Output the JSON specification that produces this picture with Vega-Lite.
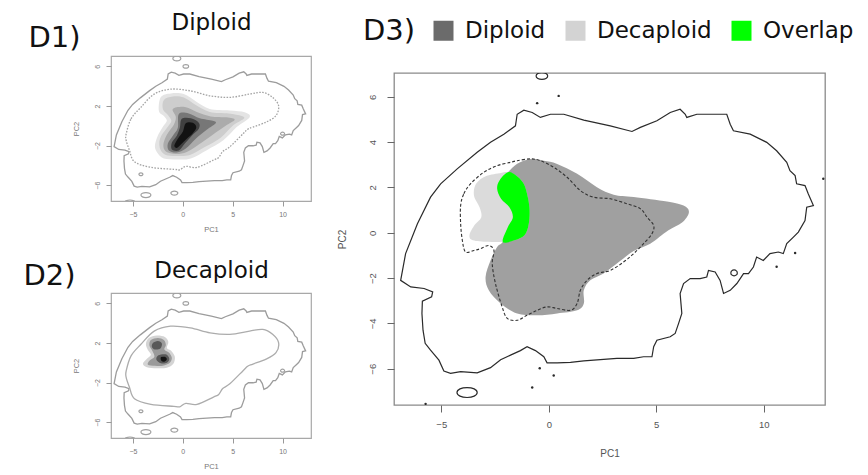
{
  "$schema": "https://vega.github.io/schema/vega-lite/v6.json",
  "padding": {"left": 22, "top": 10, "right": 5, "bottom": 0},
  "background": "white",
  "config": {
    "axis": {"grid": false, "domain": false}
  },
  "datasets": {
    "outer": [
      {"i":1,"x":-6.89,"y":-2.10},{"i":2,"x":-6.66,"y":-0.92},{"i":3,"x":-6.11,"y":0.40},{"i":4,"x":-5.50,"y":1.57},
      {"i":5,"x":-5.03,"y":2.16},{"i":6,"x":-4.26,"y":2.82},{"i":7,"x":-3.33,"y":3.55},{"i":8,"x":-2.71,"y":3.99},
      {"i":9,"x":-2.09,"y":4.35},{"i":10,"x":-1.55,"y":4.72},{"i":11,"x":-1.47,"y":5.23},{"i":12,"x":-1.16,"y":5.41},
      {"i":13,"x":-0.77,"y":5.31},{"i":14,"x":-0.39,"y":5.09},{"i":15,"x":0.08,"y":5.23},{"i":16,"x":0.70,"y":5.23},
      {"i":17,"x":1.63,"y":4.97},{"i":18,"x":2.86,"y":4.72},{"i":19,"x":3.87,"y":4.47},{"i":20,"x":4.26,"y":4.65},
      {"i":21,"x":5.03,"y":4.94},{"i":22,"x":5.65,"y":5.31},{"i":23,"x":6.11,"y":5.45},{"i":24,"x":6.35,"y":5.23},
      {"i":25,"x":6.42,"y":5.09},{"i":26,"x":6.89,"y":5.23},{"i":27,"x":7.82,"y":5.23},{"i":28,"x":8.28,"y":5.23},
      {"i":29,"x":8.44,"y":4.79},{"i":30,"x":8.59,"y":4.50},{"i":31,"x":9.37,"y":4.35},{"i":32,"x":10.14,"y":3.99},
      {"i":33,"x":10.60,"y":3.62},{"i":34,"x":11.07,"y":3.11},{"i":35,"x":11.22,"y":2.74},{"i":36,"x":11.46,"y":2.52},
      {"i":37,"x":11.53,"y":2.16},{"i":38,"x":11.92,"y":2.08},{"i":39,"x":12.07,"y":1.72},{"i":40,"x":12.31,"y":1.20},
      {"i":41,"x":12.00,"y":1.13},{"i":42,"x":11.92,"y":0.54},{"i":43,"x":11.61,"y":0.03},{"i":44,"x":11.38,"y":-0.19},
      {"i":45,"x":11.07,"y":-0.48},{"i":46,"x":10.91,"y":-0.92},{"i":47,"x":10.68,"y":-0.85},{"i":48,"x":10.29,"y":-0.92},
      {"i":49,"x":9.98,"y":-1.22},{"i":50,"x":9.67,"y":-1.07},{"i":51,"x":9.52,"y":-1.51},{"i":52,"x":9.29,"y":-1.80},
      {"i":53,"x":9.06,"y":-1.80},{"i":54,"x":8.75,"y":-2.24},{"i":55,"x":8.44,"y":-2.54},{"i":56,"x":8.13,"y":-2.68},
      {"i":57,"x":7.97,"y":-2.10},{"i":58,"x":7.74,"y":-1.73},{"i":59,"x":7.43,"y":-1.66},{"i":60,"x":7.35,"y":-1.95},
      {"i":61,"x":7.04,"y":-2.02},{"i":62,"x":6.58,"y":-2.02},{"i":63,"x":6.27,"y":-2.24},{"i":64,"x":6.11,"y":-2.68},
      {"i":65,"x":6.19,"y":-3.56},{"i":66,"x":6.04,"y":-4.00},{"i":67,"x":5.88,"y":-4.44},{"i":68,"x":5.65,"y":-4.59},
      {"i":69,"x":5.03,"y":-4.74},{"i":70,"x":4.88,"y":-5.03},{"i":71,"x":4.80,"y":-5.47},{"i":72,"x":4.41,"y":-5.47},
      {"i":73,"x":3.95,"y":-5.54},{"i":74,"x":3.17,"y":-5.54},{"i":75,"x":2.40,"y":-5.60},{"i":76,"x":1.63,"y":-5.65},
      {"i":77,"x":1.01,"y":-5.72},{"i":78,"x":0.39,"y":-5.74},{"i":79,"x":-0.08,"y":-5.74},{"i":80,"x":-0.23,"y":-5.47},
      {"i":81,"x":-0.62,"y":-5.20},{"i":82,"x":-1.01,"y":-5.03},{"i":83,"x":-1.32,"y":-5.20},{"i":84,"x":-1.78,"y":-5.40},
      {"i":85,"x":-2.24,"y":-5.60},{"i":86,"x":-2.71,"y":-5.95},{"i":87,"x":-3.33,"y":-6.18},{"i":88,"x":-4.10,"y":-6.13},
      {"i":89,"x":-4.57,"y":-6.20},{"i":90,"x":-4.88,"y":-6.10},{"i":91,"x":-5.11,"y":-5.62},{"i":92,"x":-5.50,"y":-5.18},
      {"i":93,"x":-5.75,"y":-4.88},{"i":94,"x":-5.85,"y":-4.30},{"i":95,"x":-5.90,"y":-3.56},{"i":96,"x":-5.88,"y":-3.02},
      {"i":97,"x":-5.45,"y":-2.83},{"i":98,"x":-5.40,"y":-2.61},{"i":99,"x":-5.80,"y":-2.46},{"i":100,"x":-6.42,"y":-2.39}
    ],
    "inner": [
      {"i":1,"x":-5.68,"y":-0.83},{"i":2,"x":-5.19,"y":0.70},{"i":3,"x":-4.20,"y":1.87},{"i":4,"x":-2.87,"y":3.20},
      {"i":5,"x":-1.23,"y":3.70},{"i":6,"x":0.75,"y":3.53},{"i":7,"x":2.73,"y":3.03},{"i":8,"x":4.71,"y":2.87},
      {"i":9,"x":6.69,"y":3.20},{"i":10,"x":8.02,"y":3.37},{"i":11,"x":9.00,"y":2.87},{"i":12,"x":9.60,"y":2.03},
      {"i":13,"x":9.34,"y":1.03},{"i":14,"x":8.35,"y":0.37},{"i":15,"x":7.03,"y":-0.13},{"i":16,"x":6.50,"y":-0.35},
      {"i":17,"x":6.04,"y":-0.80},{"i":18,"x":4.71,"y":-2.13},{"i":19,"x":4.00,"y":-2.60},{"i":20,"x":3.60,"y":-3.20},
      {"i":21,"x":3.07,"y":-3.47},{"i":22,"x":1.42,"y":-4.20},{"i":23,"x":0.30,"y":-4.10},{"i":24,"x":-0.30,"y":-4.45},
      {"i":25,"x":-0.89,"y":-4.40},{"i":26,"x":-3.20,"y":-4.20},{"i":27,"x":-4.85,"y":-3.63},{"i":28,"x":-5.35,"y":-2.47},
      {"i":29,"x":-5.68,"y":-1.47}
    ],
    "islandsGrey": [
      {"id":"g1","i":1,"x":-3.2,"y":-7.0},{"id":"g1","i":2,"x":-3.35,"y":-6.82},{"id":"g1","i":3,"x":-3.7,"y":-6.75},{"id":"g1","i":4,"x":-4.05,"y":-6.82},
      {"id":"g1","i":5,"x":-4.2,"y":-7.0},{"id":"g1","i":6,"x":-4.05,"y":-7.18},{"id":"g1","i":7,"x":-3.7,"y":-7.25},{"id":"g1","i":8,"x":-3.35,"y":-7.18},
      {"id":"g2","i":1,"x":-0.2,"y":6.8},{"id":"g2","i":2,"x":-0.32,"y":6.98},{"id":"g2","i":3,"x":-0.6,"y":7.05},{"id":"g2","i":4,"x":-0.88,"y":6.98},
      {"id":"g2","i":5,"x":-1.0,"y":6.8},{"id":"g2","i":6,"x":-0.88,"y":6.62},{"id":"g2","i":7,"x":-0.6,"y":6.55},{"id":"g2","i":8,"x":-0.32,"y":6.62},
      {"id":"g3","i":1,"x":0.58,"y":6.0},{"id":"g3","i":2,"x":0.5,"y":6.13},{"id":"g3","i":3,"x":0.3,"y":6.18},{"id":"g3","i":4,"x":0.1,"y":6.13},
      {"id":"g3","i":5,"x":0.02,"y":6.0},{"id":"g3","i":6,"x":0.1,"y":5.87},{"id":"g3","i":7,"x":0.3,"y":5.82},{"id":"g3","i":8,"x":0.5,"y":5.87},
      {"id":"g4","i":1,"x":-4.0,"y":-4.9},{"id":"g4","i":2,"x":-4.06,"y":-4.8},{"id":"g4","i":3,"x":-4.2,"y":-4.76},{"id":"g4","i":4,"x":-4.34,"y":-4.8},
      {"id":"g4","i":5,"x":-4.4,"y":-4.9},{"id":"g4","i":6,"x":-4.34,"y":-5.0},{"id":"g4","i":7,"x":-4.2,"y":-5.04},{"id":"g4","i":8,"x":-4.06,"y":-5.0},
      {"id":"g5","i":1,"x":-0.5,"y":-6.8},{"id":"g5","i":2,"x":-0.6,"y":-6.66},{"id":"g5","i":3,"x":-0.85,"y":-6.6},{"id":"g5","i":4,"x":-1.1,"y":-6.66},
      {"id":"g5","i":5,"x":-1.2,"y":-6.8},{"id":"g5","i":6,"x":-1.1,"y":-6.94},{"id":"g5","i":7,"x":-0.85,"y":-7.0},{"id":"g5","i":8,"x":-0.6,"y":-6.94},
      {"id":"g6","i":1,"x":-4.75,"y":-7.8},{"id":"g6","i":2,"x":-4.91,"y":-7.59},{"id":"g6","i":3,"x":-5.3,"y":-7.5},{"id":"g6","i":4,"x":-5.69,"y":-7.59},
      {"id":"g6","i":5,"x":-5.85,"y":-7.8},{"id":"g6","i":6,"x":-5.69,"y":-8.01},{"id":"g6","i":7,"x":-5.3,"y":-8.1},{"id":"g6","i":8,"x":-4.91,"y":-8.01},
      {"id":"g7","i":1,"x":10.2,"y":-0.8},{"id":"g7","i":2,"x":10.14,"y":-0.69},{"id":"g7","i":3,"x":10.0,"y":-0.65},{"id":"g7","i":4,"x":9.86,"y":-0.69},
      {"id":"g7","i":5,"x":9.8,"y":-0.8},{"id":"g7","i":6,"x":9.86,"y":-0.91},{"id":"g7","i":7,"x":10.0,"y":-0.95},{"id":"g7","i":8,"x":10.14,"y":-0.91}
    ],
    "islandsBlack": [
      {"id":"b1","i":1,"x":-3.33,"y":-7.05},{"id":"b1","i":2,"x":-3.47,"y":-6.89},{"id":"b1","i":3,"x":-3.8,"y":-6.83},{"id":"b1","i":4,"x":-4.13,"y":-6.89},
      {"id":"b1","i":5,"x":-4.27,"y":-7.05},{"id":"b1","i":6,"x":-4.13,"y":-7.21},{"id":"b1","i":7,"x":-3.8,"y":-7.27},{"id":"b1","i":8,"x":-3.47,"y":-7.21},
      {"id":"b2","i":1,"x":-0.05,"y":6.92},{"id":"b2","i":2,"x":-0.13,"y":7.03},{"id":"b2","i":3,"x":-0.32,"y":7.07},{"id":"b2","i":4,"x":-0.51,"y":7.03},
      {"id":"b2","i":5,"x":-0.59,"y":6.92},{"id":"b2","i":6,"x":-0.51,"y":6.81},{"id":"b2","i":7,"x":-0.32,"y":6.77},{"id":"b2","i":8,"x":-0.13,"y":6.81},
      {"id":"b3","i":1,"x":8.77,"y":-1.77},{"id":"b3","i":2,"x":8.73,"y":-1.68},{"id":"b3","i":3,"x":8.62,"y":-1.64},{"id":"b3","i":4,"x":8.51,"y":-1.68},
      {"id":"b3","i":5,"x":8.47,"y":-1.77},{"id":"b3","i":6,"x":8.51,"y":-1.86},{"id":"b3","i":7,"x":8.62,"y":-1.9},{"id":"b3","i":8,"x":8.73,"y":-1.86}
    ],
    "specks": [
      {"x":-0.54,"y":5.72},{"x":0.46,"y":6.04},{"x":-0.42,"y":-5.98},{"x":0.23,"y":-6.30},{"x":-0.77,"y":-6.83},
      {"x":11.46,"y":-0.89},{"x":10.6,"y":-1.5},{"x":12.77,"y":2.38},{"x":-5.73,"y":-7.55}
    ],
    "dashed": [
      {"i":1,"x":-4.10,"y":1.20},{"i":2,"x":-3.95,"y":1.72},{"i":3,"x":-3.64,"y":2.16},{"i":4,"x":-3.02,"y":2.67},
      {"i":5,"x":-2.40,"y":2.96},{"i":6,"x":-1.78,"y":3.11},{"i":7,"x":-1.47,"y":3.18},{"i":8,"x":-0.85,"y":3.26},
      {"i":9,"x":-0.39,"y":3.18},{"i":10,"x":0.23,"y":2.89},{"i":11,"x":0.85,"y":2.45},{"i":12,"x":1.47,"y":1.86},
      {"i":13,"x":2.09,"y":1.57},{"i":14,"x":2.86,"y":1.50},{"i":15,"x":3.64,"y":1.28},{"i":16,"x":4.26,"y":1.06},
      {"i":17,"x":4.57,"y":0.69},{"i":18,"x":4.88,"y":0.32},{"i":19,"x":4.80,"y":-0.04},{"i":20,"x":4.41,"y":-0.48},
      {"i":21,"x":3.95,"y":-0.92},{"i":22,"x":3.48,"y":-1.29},{"i":23,"x":2.86,"y":-1.66},{"i":24,"x":2.24,"y":-1.80},
      {"i":25,"x":1.78,"y":-2.10},{"i":26,"x":1.47,"y":-2.54},{"i":27,"x":1.32,"y":-3.12},{"i":28,"x":1.01,"y":-3.42},
      {"i":29,"x":0.39,"y":-3.34},{"i":30,"x":-0.08,"y":-3.27},{"i":31,"x":-0.54,"y":-3.42},{"i":32,"x":-1.01,"y":-3.64},
      {"i":33,"x":-1.47,"y":-3.86},{"i":34,"x":-1.93,"y":-3.78},{"i":35,"x":-2.17,"y":-3.27},{"i":36,"x":-2.48,"y":-2.24},
      {"i":37,"x":-2.63,"y":-1.36},{"i":38,"x":-2.55,"y":-0.78},{"i":39,"x":-2.79,"y":-0.56},{"i":40,"x":-3.17,"y":-0.70},
      {"i":41,"x":-3.48,"y":-0.78},{"i":42,"x":-3.87,"y":-0.85},{"i":43,"x":-4.02,"y":-0.34},{"i":44,"x":-4.10,"y":0.40}
    ],
    "regions": [
      {"group":"Diploid","i":1,"x":-1.90,"y":2.67},{"group":"Diploid","i":2,"x":-1.47,"y":3.05},{"group":"Diploid","i":3,"x":-0.85,"y":3.26},
      {"group":"Diploid","i":4,"x":-0.23,"y":3.18},{"group":"Diploid","i":5,"x":0.39,"y":3.04},{"group":"Diploid","i":6,"x":1.32,"y":2.60},
      {"group":"Diploid","i":7,"x":2.24,"y":2.01},{"group":"Diploid","i":8,"x":3.02,"y":1.68},{"group":"Diploid","i":9,"x":3.95,"y":1.58},
      {"group":"Diploid","i":10,"x":5.50,"y":1.38},{"group":"Diploid","i":11,"x":6.27,"y":1.20},{"group":"Diploid","i":12,"x":6.52,"y":0.91},
      {"group":"Diploid","i":13,"x":6.20,"y":0.45},{"group":"Diploid","i":14,"x":5.55,"y":0.10},{"group":"Diploid","i":15,"x":4.72,"y":-0.48},
      {"group":"Diploid","i":16,"x":3.95,"y":-0.80},{"group":"Diploid","i":17,"x":3.17,"y":-1.36},{"group":"Diploid","i":18,"x":2.55,"y":-1.80},
      {"group":"Diploid","i":19,"x":1.93,"y":-2.10},{"group":"Diploid","i":20,"x":1.63,"y":-2.54},{"group":"Diploid","i":21,"x":1.63,"y":-3.12},
      {"group":"Diploid","i":22,"x":1.32,"y":-3.42},{"group":"Diploid","i":23,"x":0.39,"y":-3.56},{"group":"Diploid","i":24,"x":-0.54,"y":-3.64},
      {"group":"Diploid","i":25,"x":-1.47,"y":-3.56},{"group":"Diploid","i":26,"x":-2.24,"y":-3.12},{"group":"Diploid","i":27,"x":-2.79,"y":-2.54},
      {"group":"Diploid","i":28,"x":-2.94,"y":-1.95},{"group":"Diploid","i":29,"x":-2.71,"y":-1.22},{"group":"Diploid","i":30,"x":-2.40,"y":-0.63},
      {"group":"Diploid","i":31,"x":-2.14,"y":-0.40},{"group":"Diploid","i":32,"x":-1.90,"y":0.25},{"group":"Diploid","i":33,"x":-1.67,"y":0.69},
      {"group":"Diploid","i":34,"x":-1.83,"y":1.13},{"group":"Diploid","i":35,"x":-2.22,"y":1.50},{"group":"Diploid","i":36,"x":-2.40,"y":1.94},
      {"group":"Diploid","i":37,"x":-2.29,"y":2.31},
      {"group":"Decaploid","i":1,"x":-3.48,"y":1.65},{"group":"Decaploid","i":2,"x":-3.38,"y":2.16},{"group":"Decaploid","i":3,"x":-2.91,"y":2.50},
      {"group":"Decaploid","i":4,"x":-2.22,"y":2.64},{"group":"Decaploid","i":5,"x":-1.90,"y":2.67},{"group":"Decaploid","i":6,"x":-1.52,"y":2.53},
      {"group":"Decaploid","i":7,"x":-1.21,"y":2.23},{"group":"Decaploid","i":8,"x":-1.05,"y":1.87},{"group":"Decaploid","i":9,"x":-0.90,"y":1.13},
      {"group":"Decaploid","i":10,"x":-0.93,"y":0.40},{"group":"Decaploid","i":11,"x":-1.13,"y":-0.11},{"group":"Decaploid","i":12,"x":-1.60,"y":-0.33},
      {"group":"Decaploid","i":13,"x":-2.14,"y":-0.40},{"group":"Decaploid","i":14,"x":-2.83,"y":-0.40},{"group":"Decaploid","i":15,"x":-3.53,"y":-0.33},
      {"group":"Decaploid","i":16,"x":-3.69,"y":-0.11},{"group":"Decaploid","i":17,"x":-3.46,"y":0.33},{"group":"Decaploid","i":18,"x":-3.14,"y":0.69},
      {"group":"Decaploid","i":19,"x":-3.22,"y":1.13},
      {"group":"Overlap","i":1,"x":-1.90,"y":2.67},{"group":"Overlap","i":2,"x":-1.52,"y":2.53},{"group":"Overlap","i":3,"x":-1.21,"y":2.23},
      {"group":"Overlap","i":4,"x":-1.05,"y":1.87},{"group":"Overlap","i":5,"x":-0.90,"y":1.13},{"group":"Overlap","i":6,"x":-0.93,"y":0.40},
      {"group":"Overlap","i":7,"x":-1.13,"y":-0.11},{"group":"Overlap","i":8,"x":-1.60,"y":-0.33},{"group":"Overlap","i":9,"x":-2.14,"y":-0.40},
      {"group":"Overlap","i":10,"x":-1.90,"y":0.25},{"group":"Overlap","i":11,"x":-1.67,"y":0.69},{"group":"Overlap","i":12,"x":-1.83,"y":1.13},
      {"group":"Overlap","i":13,"x":-2.22,"y":1.50},{"group":"Overlap","i":14,"x":-2.40,"y":1.94},{"group":"Overlap","i":15,"x":-2.29,"y":2.31}
    ],
    "densDiploid": [
      {"id":"d1","level":1,"i":1,"x":-2.2,"y":2.9},{"id":"d1","level":1,"i":2,"x":-1.2,"y":3.27},{"id":"d1","level":1,"i":3,"x":0.1,"y":3.2},
      {"id":"d1","level":1,"i":4,"x":1.4,"y":2.4},{"id":"d1","level":1,"i":5,"x":2.7,"y":1.7},{"id":"d1","level":1,"i":6,"x":4.7,"y":1.55},
      {"id":"d1","level":1,"i":7,"x":6.2,"y":1.37},{"id":"d1","level":1,"i":8,"x":6.7,"y":0.87},{"id":"d1","level":1,"i":9,"x":5.4,"y":-0.13},
      {"id":"d1","level":1,"i":10,"x":4.06,"y":-1.47},{"id":"d1","level":1,"i":11,"x":2.4,"y":-2.47},{"id":"d1","level":1,"i":12,"x":0.8,"y":-3.3},
      {"id":"d1","level":1,"i":13,"x":-0.6,"y":-3.4},{"id":"d1","level":1,"i":14,"x":-1.9,"y":-3.3},{"id":"d1","level":1,"i":15,"x":-2.5,"y":-2.8},
      {"id":"d1","level":1,"i":16,"x":-2.8,"y":-2.1},{"id":"d1","level":1,"i":17,"x":-2.55,"y":-1.1},{"id":"d1","level":1,"i":18,"x":-2.0,"y":-0.1},
      {"id":"d1","level":1,"i":19,"x":-1.6,"y":0.5},{"id":"d1","level":1,"i":20,"x":-1.9,"y":1.0},{"id":"d1","level":1,"i":21,"x":-2.4,"y":1.5},
      {"id":"d2","level":2,"i":1,"x":-1.9,"y":2.6},{"id":"d2","level":2,"i":2,"x":-1.0,"y":2.95},{"id":"d2","level":2,"i":3,"x":0.1,"y":2.85},
      {"id":"d2","level":2,"i":4,"x":1.3,"y":2.1},{"id":"d2","level":2,"i":5,"x":2.7,"y":1.4},{"id":"d2","level":2,"i":6,"x":4.6,"y":1.25},
      {"id":"d2","level":2,"i":7,"x":5.9,"y":1.0},{"id":"d2","level":2,"i":8,"x":6.1,"y":0.7},{"id":"d2","level":2,"i":9,"x":5.0,"y":0.0},
      {"id":"d2","level":2,"i":10,"x":3.8,"y":-1.2},{"id":"d2","level":2,"i":11,"x":2.2,"y":-2.15},{"id":"d2","level":2,"i":12,"x":0.7,"y":-2.95},
      {"id":"d2","level":2,"i":13,"x":-0.6,"y":-3.05},{"id":"d2","level":2,"i":14,"x":-1.7,"y":-2.95},{"id":"d2","level":2,"i":15,"x":-2.25,"y":-2.4},
      {"id":"d2","level":2,"i":16,"x":-2.35,"y":-1.6},{"id":"d2","level":2,"i":17,"x":-2.1,"y":-0.9},{"id":"d2","level":2,"i":18,"x":-1.5,"y":-0.1},
      {"id":"d2","level":2,"i":19,"x":-1.15,"y":0.5},{"id":"d2","level":2,"i":20,"x":-1.5,"y":1.1},{"id":"d2","level":2,"i":21,"x":-2.0,"y":1.7},
      {"id":"d3","level":3,"i":1,"x":-1.0,"y":1.7},{"id":"d3","level":3,"i":2,"x":0.2,"y":1.9},{"id":"d3","level":3,"i":3,"x":1.4,"y":1.4},
      {"id":"d3","level":3,"i":4,"x":2.8,"y":0.95},{"id":"d3","level":3,"i":5,"x":4.4,"y":0.85},{"id":"d3","level":3,"i":6,"x":5.2,"y":0.6},
      {"id":"d3","level":3,"i":7,"x":4.3,"y":0.0},{"id":"d3","level":3,"i":8,"x":3.0,"y":-0.9},{"id":"d3","level":3,"i":9,"x":1.6,"y":-1.9},
      {"id":"d3","level":3,"i":10,"x":0.4,"y":-2.65},{"id":"d3","level":3,"i":11,"x":-0.7,"y":-2.85},{"id":"d3","level":3,"i":12,"x":-1.7,"y":-2.6},
      {"id":"d3","level":3,"i":13,"x":-1.95,"y":-1.9},{"id":"d3","level":3,"i":14,"x":-1.6,"y":-0.9},{"id":"d3","level":3,"i":15,"x":-0.9,"y":0.1},
      {"id":"d3","level":3,"i":16,"x":-0.7,"y":0.9},
      {"id":"d4","level":4,"i":1,"x":-0.4,"y":1.2},{"id":"d4","level":4,"i":2,"x":0.6,"y":1.25},{"id":"d4","level":4,"i":3,"x":1.7,"y":0.75},
      {"id":"d4","level":4,"i":4,"x":3.0,"y":0.5},{"id":"d4","level":4,"i":5,"x":3.3,"y":0.25},{"id":"d4","level":4,"i":6,"x":2.4,"y":-0.4},
      {"id":"d4","level":4,"i":7,"x":1.3,"y":-1.3},{"id":"d4","level":4,"i":8,"x":0.3,"y":-2.3},{"id":"d4","level":4,"i":9,"x":-0.6,"y":-2.7},
      {"id":"d4","level":4,"i":10,"x":-1.4,"y":-2.5},{"id":"d4","level":4,"i":11,"x":-1.5,"y":-1.8},{"id":"d4","level":4,"i":12,"x":-1.0,"y":-1.0},
      {"id":"d4","level":4,"i":13,"x":-0.5,"y":-0.2},
      {"id":"d5","level":5,"i":1,"x":-0.1,"y":0.7},{"id":"d5","level":5,"i":2,"x":0.8,"y":0.75},{"id":"d5","level":5,"i":3,"x":1.6,"y":0.3},
      {"id":"d5","level":5,"i":4,"x":1.6,"y":-0.3},{"id":"d5","level":5,"i":5,"x":0.9,"y":-1.0},{"id":"d5","level":5,"i":6,"x":0.2,"y":-1.8},
      {"id":"d5","level":5,"i":7,"x":-0.4,"y":-2.5},{"id":"d5","level":5,"i":8,"x":-1.1,"y":-2.4},{"id":"d5","level":5,"i":9,"x":-1.1,"y":-1.7},
      {"id":"d5","level":5,"i":10,"x":-0.6,"y":-1.0},{"id":"d5","level":5,"i":11,"x":-0.3,"y":-0.2},
      {"id":"d6","level":6,"i":1,"x":0.3,"y":0.25},{"id":"d6","level":6,"i":2,"x":1.0,"y":0.3},{"id":"d6","level":6,"i":3,"x":1.35,"y":-0.15},
      {"id":"d6","level":6,"i":4,"x":1.0,"y":-0.75},{"id":"d6","level":6,"i":5,"x":0.4,"y":-1.3},{"id":"d6","level":6,"i":6,"x":-0.2,"y":-1.9},
      {"id":"d6","level":6,"i":7,"x":-0.6,"y":-2.25},{"id":"d6","level":6,"i":8,"x":-0.85,"y":-2.0},{"id":"d6","level":6,"i":9,"x":-0.5,"y":-1.3},
      {"id":"d6","level":6,"i":10,"x":0.0,"y":-0.6}
    ],
    "densDecaploid": [
      {"id":"e1","level":1,"i":1,"x":-3.4,"y":2.5},{"id":"e1","level":1,"i":2,"x":-2.6,"y":2.75},{"id":"e1","level":1,"i":3,"x":-1.8,"y":2.6},
      {"id":"e1","level":1,"i":4,"x":-1.45,"y":2.1},{"id":"e1","level":1,"i":5,"x":-1.6,"y":1.5},{"id":"e1","level":1,"i":6,"x":-1.15,"y":1.2},
      {"id":"e1","level":1,"i":7,"x":-0.8,"y":0.6},{"id":"e1","level":1,"i":8,"x":-0.95,"y":-0.1},{"id":"e1","level":1,"i":9,"x":-1.6,"y":-0.5},
      {"id":"e1","level":1,"i":10,"x":-2.6,"y":-0.55},{"id":"e1","level":1,"i":11,"x":-3.6,"y":-0.45},{"id":"e1","level":1,"i":12,"x":-4.0,"y":-0.1},
      {"id":"e1","level":1,"i":13,"x":-3.6,"y":0.4},{"id":"e1","level":1,"i":14,"x":-3.2,"y":0.8},{"id":"e1","level":1,"i":15,"x":-3.5,"y":1.3},
      {"id":"e1","level":1,"i":16,"x":-3.7,"y":1.9},
      {"id":"e2","level":2,"i":1,"x":-3.2,"y":2.3},{"id":"e2","level":2,"i":2,"x":-2.5,"y":2.5},{"id":"e2","level":2,"i":3,"x":-1.9,"y":2.3},
      {"id":"e2","level":2,"i":4,"x":-1.7,"y":1.8},{"id":"e2","level":2,"i":5,"x":-1.85,"y":1.35},{"id":"e2","level":2,"i":6,"x":-1.35,"y":1.0},
      {"id":"e2","level":2,"i":7,"x":-1.1,"y":0.5},{"id":"e2","level":2,"i":8,"x":-1.3,"y":0.0},{"id":"e2","level":2,"i":9,"x":-2.0,"y":-0.3},
      {"id":"e2","level":2,"i":10,"x":-2.8,"y":-0.3},{"id":"e2","level":2,"i":11,"x":-3.5,"y":-0.2},{"id":"e2","level":2,"i":12,"x":-3.35,"y":0.2},
      {"id":"e2","level":2,"i":13,"x":-2.85,"y":0.6},{"id":"e2","level":2,"i":14,"x":-3.05,"y":1.2},{"id":"e2","level":2,"i":15,"x":-3.35,"y":1.75},
      {"id":"e3","level":3,"i":1,"x":-3.0,"y":2.0},{"id":"e3","level":3,"i":2,"x":-2.5,"y":2.2},{"id":"e3","level":3,"i":3,"x":-2.1,"y":1.95},
      {"id":"e3","level":3,"i":4,"x":-2.25,"y":1.45},{"id":"e3","level":3,"i":5,"x":-2.8,"y":1.35},{"id":"e3","level":3,"i":6,"x":-3.1,"y":1.6},
      {"id":"e4","level":3,"i":1,"x":-2.45,"y":0.75},{"id":"e4","level":3,"i":2,"x":-1.7,"y":0.85},{"id":"e4","level":3,"i":3,"x":-1.35,"y":0.4},
      {"id":"e4","level":3,"i":4,"x":-1.6,"y":0.0},{"id":"e4","level":3,"i":5,"x":-2.2,"y":-0.05},{"id":"e4","level":3,"i":6,"x":-2.65,"y":0.3},
      {"id":"e5","level":4,"i":1,"x":-2.2,"y":0.55},{"id":"e5","level":4,"i":2,"x":-1.8,"y":0.6},{"id":"e5","level":4,"i":3,"x":-1.6,"y":0.35},
      {"id":"e5","level":4,"i":4,"x":-1.85,"y":0.1},{"id":"e5","level":4,"i":5,"x":-2.15,"y":0.2}
    ]
  },
  "spacing": 283,
  "bounds": "flush",
  "resolve": {"scale": {"fill": "independent", "fillOpacity": "independent"}, "legend": {"fill": "independent"}},
  "hconcat": [
    {
      "spacing": 92,
      "bounds": "flush",
      "resolve": {"scale": {"fill": "independent"}, "legend": {"fill": "independent"}},
      "vconcat": [
        {
          "width": 200,
          "height": 145,
          "view": {"stroke": "#a8a8a8", "strokeWidth": 1.2},
          "resolve": {"axis": {"x": "independent"}},
          "layer": [
            {
              "data": {"name": "densDiploid"},
              "mark": {"type": "line", "interpolate": "cardinal-closed", "strokeWidth": 0, "clip": true},
              "encoding": {
                "x": {"field": "x", "type": "quantitative", "scale": {"domain": [-7.2, 12.85], "nice": false, "zero": false},
                  "axis": {"values": [-5, 0, 5, 10], "title": "PC1", "tickSize": 5, "tickColor": "#999", "labelFontSize": 7, "labelFont": "Liberation Sans", "labelColor": "#777", "labelPadding": 4, "titleFont": "Liberation Sans", "titleFontSize": 7.5, "titleFontWeight": "normal", "titleColor": "#777", "titlePadding": 8}},
                "y": {"field": "y", "type": "quantitative", "scale": {"domain": [-7.6, 7.05], "nice": false, "zero": false},
                  "axis": {"values": [-6, -4, -2, 0, 2, 4, 6], "title": "PC2", "labelAngle": -90, "tickSize": 5, "tickColor": "#999", "labelFontSize": 7, "labelFont": "Liberation Sans", "labelColor": "#777", "labelPadding": 6, "titleFont": "Liberation Sans", "titleFontSize": 7.5, "titleFontWeight": "normal", "titleColor": "#777", "titlePadding": 13}},
                "detail": {"field": "id"},
                "order": {"field": "i", "type": "quantitative"},
                "fill": {"field": "level", "type": "ordinal", "scale": {"domain": [1, 2, 3, 4, 5, 6], "range": ["#e4e4e4", "#cdcdcd", "#ababab", "#777777", "#404040", "#121212"]}, "legend": null}
              }
            },
            {
              "data": {"name": "outer"},
              "mark": {"type": "line", "interpolate": "linear-closed", "stroke": "#9c9c9c", "strokeWidth": 1.3, "clip": true},
              "encoding": {
                "x": {"field": "x", "type": "quantitative", "axis": null},
                "y": {"field": "y", "type": "quantitative"},
                "order": {"field": "i", "type": "quantitative"}
              }
            },
            {
              "data": {"name": "inner"},
              "mark": {"type": "line", "interpolate": "cardinal-closed", "stroke": "#a4a4a4", "strokeWidth": 1.3, "strokeDash": [1.6, 1.4], "clip": true},
              "encoding": {
                "x": {"field": "x", "type": "quantitative",
                  "axis": {"orient": "top", "labels": false, "ticks": false, "domain": false, "title": "Diploid", "titleFont": "DejaVu Sans", "titleFontSize": 23, "titleFontWeight": "normal", "titleColor": "#111", "titlePadding": 22}},
                "y": {"field": "y", "type": "quantitative"},
                "order": {"field": "i", "type": "quantitative"}
              }
            },
            {
              "data": {"name": "islandsGrey"},
              "mark": {"type": "line", "interpolate": "cardinal-closed", "stroke": "#a0a0a0", "strokeWidth": 1.2, "clip": true},
              "encoding": {
                "x": {"field": "x", "type": "quantitative",
                  "axis": {"orient": "top", "labels": false, "ticks": false, "domain": false, "title": "D1)", "titleFont": "DejaVu Sans", "titleFontSize": 29, "titleFontWeight": "normal", "titleColor": "#111", "titleX": -83, "titleY": -10, "titleAlign": "left", "titleBaseline": "alphabetic", "titleAngle": 0}},
                "y": {"field": "y", "type": "quantitative"},
                "detail": {"field": "id"},
                "order": {"field": "i", "type": "quantitative"}
              }
            }
          ]
        },
        {
          "width": 200,
          "height": 145,
          "view": {"stroke": "#a8a8a8", "strokeWidth": 1.2},
          "resolve": {"axis": {"x": "independent"}},
          "layer": [
            {
              "data": {"name": "densDecaploid"},
              "mark": {"type": "line", "interpolate": "cardinal-closed", "strokeWidth": 0, "clip": true},
              "encoding": {
                "x": {"field": "x", "type": "quantitative", "scale": {"domain": [-7.2, 12.85], "nice": false, "zero": false},
                  "axis": {"values": [-5, 0, 5, 10], "title": "PC1", "tickSize": 5, "tickColor": "#999", "labelFontSize": 7, "labelFont": "Liberation Sans", "labelColor": "#777", "labelPadding": 4, "titleFont": "Liberation Sans", "titleFontSize": 7.5, "titleFontWeight": "normal", "titleColor": "#777", "titlePadding": 8}},
                "y": {"field": "y", "type": "quantitative", "scale": {"domain": [-7.6, 7.05], "nice": false, "zero": false},
                  "axis": {"values": [-6, -4, -2, 0, 2, 4, 6], "title": "PC2", "labelAngle": -90, "tickSize": 5, "tickColor": "#999", "labelFontSize": 7, "labelFont": "Liberation Sans", "labelColor": "#777", "labelPadding": 6, "titleFont": "Liberation Sans", "titleFontSize": 7.5, "titleFontWeight": "normal", "titleColor": "#777", "titlePadding": 13}},
                "detail": {"field": "id"},
                "order": {"field": "i", "type": "quantitative"},
                "fill": {"field": "level", "type": "ordinal", "scale": {"domain": [1, 2, 3, 4], "range": ["#d4d4d4", "#9a9a9a", "#585858", "#141414"]}, "legend": null}
              }
            },
            {
              "data": {"name": "outer"},
              "mark": {"type": "line", "interpolate": "linear-closed", "stroke": "#9c9c9c", "strokeWidth": 1.3, "clip": true},
              "encoding": {
                "x": {"field": "x", "type": "quantitative", "axis": null},
                "y": {"field": "y", "type": "quantitative"},
                "order": {"field": "i", "type": "quantitative"}
              }
            },
            {
              "data": {"name": "inner"},
              "mark": {"type": "line", "interpolate": "cardinal-closed", "stroke": "#acacac", "strokeWidth": 1.3, "clip": true},
              "encoding": {
                "x": {"field": "x", "type": "quantitative",
                  "axis": {"orient": "top", "labels": false, "ticks": false, "domain": false, "title": "Decaploid", "titleFont": "DejaVu Sans", "titleFontSize": 23, "titleFontWeight": "normal", "titleColor": "#111", "titlePadding": 11}},
                "y": {"field": "y", "type": "quantitative"},
                "order": {"field": "i", "type": "quantitative"}
              }
            },
            {
              "data": {"name": "islandsGrey"},
              "mark": {"type": "line", "interpolate": "cardinal-closed", "stroke": "#a0a0a0", "strokeWidth": 1.2, "clip": true},
              "encoding": {
                "x": {"field": "x", "type": "quantitative",
                  "axis": {"orient": "top", "labels": false, "ticks": false, "domain": false, "title": "D2)", "titleFont": "DejaVu Sans", "titleFontSize": 29, "titleFontWeight": "normal", "titleColor": "#111", "titleX": -88, "titleY": -9, "titleAlign": "left", "titleBaseline": "alphabetic", "titleAngle": 0}},
                "y": {"field": "y", "type": "quantitative"},
                "detail": {"field": "id"},
                "order": {"field": "i", "type": "quantitative"}
              }
            }
          ]
        }
      ]
    },
    {
      "spacing": 16,
      "bounds": "flush",
      "resolve": {"scale": {"fill": "independent", "fillOpacity": "independent"}, "legend": {"fill": "independent"}},
      "vconcat": [
        {
          "width": 431,
          "height": 1,
          "view": {"stroke": null},
          "data": {"values": [{"gap": 0}]},
          "mark": {"type": "rect", "opacity": 0}
        },
        {
          "width": 431,
          "height": 332,
          "view": {"stroke": "#8a8a8a", "strokeWidth": 1.3},
          "layer": [
            {
              "data": {"name": "regions"},
              "mark": {"type": "line", "interpolate": "cardinal-closed", "strokeWidth": 0, "clip": true},
              "encoding": {
                "x": {"field": "x", "type": "quantitative", "scale": {"domain": [-7.2, 12.85], "nice": false, "zero": false},
                  "axis": {"values": [-5, 0, 5, 10], "title": "PC1", "tickSize": 7, "tickColor": "#666", "labelFontSize": 9.5, "labelFont": "Liberation Sans", "labelColor": "#555", "labelPadding": 7, "titleFont": "Liberation Sans", "titleFontSize": 10, "titleFontWeight": "normal", "titleColor": "#555", "titlePadding": 20}},
                "y": {"field": "y", "type": "quantitative", "scale": {"domain": [-7.6, 7.05], "nice": false, "zero": false},
                  "axis": {"values": [-6, -4, -2, 0, 2, 4, 6], "title": "PC2", "labelAngle": -90, "tickSize": 7, "tickColor": "#666", "labelFontSize": 9.5, "labelFont": "Liberation Sans", "labelColor": "#555", "labelPadding": 10, "titleFont": "Liberation Sans", "titleFontSize": 10, "titleFontWeight": "normal", "titleColor": "#555", "titlePadding": 20}},
                "detail": {"field": "group"},
                "order": {"field": "i", "type": "quantitative"},
                "fill": {"field": "group", "type": "nominal",
                  "scale": {"domain": ["Diploid", "Decaploid", "Overlap"], "range": ["#6b6b6b", "#d3d3d3", "#00ff00"]},
                  "legend": {"title": "D3)", "orient": "none", "legendX": -31, "legendY": -54, "direction": "horizontal", "titleOrient": "left",
                    "symbolType": "square", "symbolSize": 400, "symbolStrokeWidth": 0, "symbolOpacity": 1,
                    "labelFont": "DejaVu Sans", "labelFontSize": 23, "labelColor": "#111", "labelOffset": 10, "columnPadding": 18,
                    "titleFont": "DejaVu Sans", "titleFontSize": 29, "titleFontWeight": "normal", "titleColor": "#111", "titlePadding": 16, "titleLimit": 0, "labelLimit": 0}},
                "fillOpacity": {"field": "group", "type": "nominal", "scale": {"domain": ["Diploid", "Decaploid", "Overlap"], "range": [0.64, 1, 1]}, "legend": null}
              }
            },
            {
              "data": {"name": "dashed"},
              "mark": {"type": "line", "interpolate": "cardinal-closed", "stroke": "#333", "strokeWidth": 1.1, "strokeDash": [3, 2], "clip": true},
              "encoding": {
                "x": {"field": "x", "type": "quantitative"},
                "y": {"field": "y", "type": "quantitative"},
                "order": {"field": "i", "type": "quantitative"}
              }
            },
            {
              "data": {"name": "outer"},
              "mark": {"type": "line", "interpolate": "linear-closed", "stroke": "#2a2a2a", "strokeWidth": 1.2, "clip": true},
              "encoding": {
                "x": {"field": "x", "type": "quantitative"},
                "y": {"field": "y", "type": "quantitative"},
                "order": {"field": "i", "type": "quantitative"}
              }
            },
            {
              "data": {"name": "islandsBlack"},
              "mark": {"type": "line", "interpolate": "cardinal-closed", "stroke": "#2a2a2a", "strokeWidth": 1.2, "clip": true},
              "encoding": {
                "x": {"field": "x", "type": "quantitative"},
                "y": {"field": "y", "type": "quantitative"},
                "detail": {"field": "id"},
                "order": {"field": "i", "type": "quantitative"}
              }
            },
            {
              "data": {"name": "specks"},
              "mark": {"type": "point", "filled": true, "size": 6, "color": "#2a2a2a", "opacity": 1, "clip": true},
              "encoding": {
                "x": {"field": "x", "type": "quantitative"},
                "y": {"field": "y", "type": "quantitative"}
              }
            }
          ]
        }
      ]
    }
  ]
}
